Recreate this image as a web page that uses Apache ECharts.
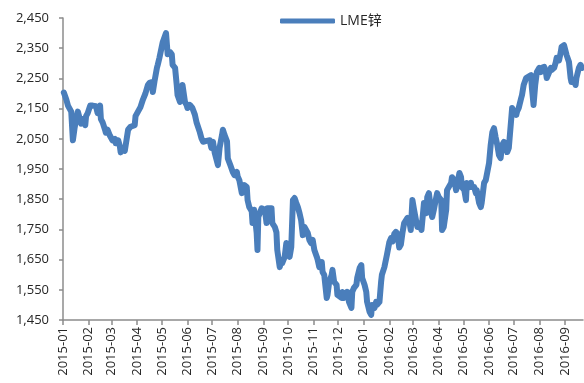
<!DOCTYPE html>
<html>
<head>
<meta charset="utf-8">
<script src="https://cdn.jsdelivr.net/npm/echarts@6/dist/echarts.min.js"></script>
<style>
  html, body { margin: 0; padding: 0; background: #ffffff; }
  #chart { width: 584px; height: 383px; }
</style>
</head>
<body>
<div id="chart"></div>
<script>
// LME zinc price, daily closes (USD/t)
const seriesName = 'LME锌';

const dates = [
  '2015-01-02','2015-01-05','2015-01-07','2015-01-11','2015-01-13','2015-01-15','2015-01-17','2015-01-19','2015-01-22','2015-01-23','2015-01-25','2015-01-28','2015-01-29','2015-01-31',
  '2015-02-03','2015-02-06','2015-02-10','2015-02-12','2015-02-15','2015-02-16','2015-02-18','2015-02-21','2015-02-22','2015-02-24','2015-02-27','2015-02-28',
  '2015-03-02','2015-03-05','2015-03-06','2015-03-09','2015-03-11','2015-03-12','2015-03-15','2015-03-17','2015-03-21','2015-03-24','2015-03-29','2015-03-30',
  '2015-04-02','2015-04-05','2015-04-08','2015-04-11','2015-04-14','2015-04-16','2015-04-19','2015-04-20','2015-04-22','2015-04-25','2015-04-26','2015-04-28',
  '2015-05-02','2015-05-06','2015-05-08','2015-05-11','2015-05-13','2015-05-14','2015-05-17','2015-05-19','2015-05-20','2015-05-23','2015-05-25','2015-05-26','2015-05-29','2015-05-31',
  '2015-06-01','2015-06-04','2015-06-06','2015-06-07','2015-06-10','2015-06-12','2015-06-13','2015-06-16','2015-06-18','2015-06-20','2015-06-22','2015-06-24','2015-06-28','2015-06-30',
  '2015-07-02','2015-07-04','2015-07-08','2015-07-10','2015-07-13','2015-07-14','2015-07-16','2015-07-19','2015-07-20','2015-07-23','2015-07-26','2015-07-28','2015-07-31',
  '2015-08-01','2015-08-03','2015-08-06','2015-08-07','2015-08-09','2015-08-12','2015-08-13','2015-08-15','2015-08-18','2015-08-19','2015-08-21','2015-08-24','2015-08-25','2015-08-26','2015-08-30',
  '2015-09-03','2015-09-05','2015-09-06','2015-09-11','2015-09-12','2015-09-15','2015-09-17','2015-09-18','2015-09-21','2015-09-23','2015-09-24','2015-09-27','2015-09-29','2015-09-30',
  '2015-10-03','2015-10-05','2015-10-07','2015-10-09','2015-10-11','2015-10-13','2015-10-15','2015-10-17','2015-10-19','2015-10-21','2015-10-23','2015-10-25','2015-10-27','2015-10-29','2015-10-31',
  '2015-11-02','2015-11-05','2015-11-06','2015-11-08','2015-11-11','2015-11-12','2015-11-14','2015-11-17','2015-11-18','2015-11-20','2015-11-23','2015-11-24','2015-11-26','2015-11-29','2015-11-30',
  '2015-12-02','2015-12-05','2015-12-06','2015-12-08','2015-12-11','2015-12-12','2015-12-14','2015-12-17','2015-12-18','2015-12-20','2015-12-23','2015-12-24','2015-12-27','2015-12-29','2015-12-30',
  '2016-01-02','2016-01-04','2016-01-05','2016-01-08','2016-01-10','2016-01-11','2016-01-14','2016-01-16','2016-01-17','2016-01-20','2016-01-22','2016-01-23','2016-01-26','2016-01-28','2016-01-29',
  '2016-02-01','2016-02-03','2016-02-05','2016-02-07','2016-02-09','2016-02-11','2016-02-13','2016-02-15','2016-02-17','2016-02-19','2016-02-21','2016-02-23','2016-02-25','2016-02-27','2016-02-29',
  '2016-03-02','2016-03-05','2016-03-06','2016-03-08','2016-03-11','2016-03-12','2016-03-14','2016-03-17','2016-03-18','2016-03-20','2016-03-23','2016-03-24','2016-03-26','2016-03-29','2016-03-30',
  '2016-04-01','2016-04-04','2016-04-05','2016-04-07','2016-04-10','2016-04-11','2016-04-13','2016-04-16','2016-04-17','2016-04-20','2016-04-22','2016-04-23','2016-04-26','2016-04-28','2016-04-29',
  '2016-05-02','2016-05-04','2016-05-05','2016-05-08','2016-05-10','2016-05-11','2016-05-14','2016-05-16','2016-05-17','2016-05-20','2016-05-22','2016-05-23','2016-05-26','2016-05-28','2016-05-30',
  '2016-06-01','2016-06-03','2016-06-05','2016-06-07','2016-06-09','2016-06-11','2016-06-13','2016-06-15','2016-06-17','2016-06-19','2016-06-22','2016-06-23','2016-06-25','2016-06-28','2016-06-29',
  '2016-07-01','2016-07-04','2016-07-05','2016-07-07','2016-07-10','2016-07-11','2016-07-13','2016-07-16','2016-07-17','2016-07-22','2016-07-23','2016-07-25','2016-07-27','2016-07-29',
  '2016-08-01','2016-08-03','2016-08-04','2016-08-07','2016-08-09','2016-08-10','2016-08-13','2016-08-15','2016-08-16','2016-08-19','2016-08-21','2016-08-22','2016-08-25','2016-08-27','2016-08-28','2016-08-31',
  '2016-09-02','2016-09-03','2016-09-06','2016-09-08','2016-09-09','2016-09-12','2016-09-14','2016-09-15','2016-09-18','2016-09-20','2016-09-22'
];

const zincPrice = [
  2203,2180,2160,2140,2045,2085,2115,2140,2110,2100,2115,2095,2125,2135,
  2160,2160,2158,2135,2160,2115,2105,2080,2070,2080,2060,2065,
  2045,2050,2035,2045,2025,2005,2020,2010,2080,2090,2095,2125,
  2140,2155,2180,2200,2228,2235,2238,2205,2240,2285,2295,2318,
  2370,2400,2330,2337,2330,2295,2285,2228,2195,2172,2185,2228,2172,2162,
  2152,2162,2160,2152,2130,2105,2100,2072,2052,2040,2045,2043,2045,2020,
  2040,2005,1963,2020,2063,2080,2063,2042,1985,1963,1940,1930,1940,
  1925,1913,1870,1865,1897,1890,1847,1824,1810,1771,1815,1738,1682,1791,1820,
  1815,1771,1820,1820,1771,1758,1740,1682,1625,1648,1638,1659,1705,1692,
  1659,1692,1847,1854,1838,1824,1804,1780,1731,1758,1748,1738,1715,1705,1715,
  1682,1659,1650,1625,1642,1609,1599,1523,1533,1576,1599,1616,1576,1566,1533,
  1533,1523,1543,1523,1533,1543,1510,1490,1543,1556,1566,1589,1622,1632,1589,
  1566,1543,1510,1477,1467,1500,1490,1510,1500,1510,1576,1600,1625,1625,1665,
  1708,1721,1710,1735,1742,1735,1690,1700,1740,1771,1775,1788,1780,1748,1847,
  1815,1771,1758,1771,1748,1748,1837,1804,1857,1870,1804,1791,1815,1857,1870,
  1857,1847,1748,1758,1815,1880,1880,1904,1923,1913,1880,1890,1937,1923,1890,
  1880,1847,1904,1890,1904,1890,1890,1870,1880,1837,1824,1837,1904,1913,1913,
  1970,2030,2072,2085,2055,2030,1996,1986,2030,2040,2030,2006,2020,2119,2152,
  2140,2129,2140,2152,2185,2195,2228,2251,2255,2261,2218,2162,2228,2271,
  2285,2271,2285,2288,2271,2251,2271,2285,2278,2285,2304,2318,2310,2337,2354,2360,
  2354,2328,2304,2251,2238,2245,2228,2251,2285,2295,2285
];

// Month marks along the date axis
const monthLabels = [
  '2015-01','2015-02','2015-03','2015-04','2015-05','2015-06','2015-07','2015-08','2015-09','2015-10','2015-11','2015-12',
  '2016-01','2016-02','2016-03','2016-04','2016-05','2016-06','2016-07','2016-08','2016-09'
];
const axisStart = '2015-01-01';
const axisEnd = '2016-09-23';

// 'YYYY-MM-DD' -> UTC timestamp
function toTime(s) {
  const p = s.split('-').map(Number);
  return Date.UTC(p[0], p[1] - 1, p.length > 2 ? p[2] : 1);
}
function monthText(t) {
  const d = new Date(t);
  const m = d.getUTCMonth() + 1;
  return d.getUTCFullYear() + '-' + (m < 10 ? '0' + m : m);
}

const monthStarts = monthLabels.map(toTime);
const points = dates.map((d, i) => [toTime(d), zincPrice[i]]);

const axisGray = '#8c8c8c';
const textColor = '#262626';
const baseFont = '"Open Sans", "Noto Sans CJK SC", sans-serif';

const chart = echarts.init(document.getElementById('chart'), null, { renderer: 'canvas' });
chart.setOption({
  animation: false,
  backgroundColor: '#ffffff',
  textStyle: { fontFamily: baseFont },
  legend: {
    data: [seriesName],
    left: 275,
    top: 9,
    icon: 'roundRect',
    itemWidth: 55,
    itemHeight: 5,
    textStyle: { fontSize: 14, color: textColor, fontFamily: baseFont }
  },
  grid: { left: 63, right: 1, top: 18, bottom: 63, containLabel: false },
  xAxis: {
    type: 'value',
    min: toTime(axisStart),
    max: toTime(axisEnd),
    splitLine: { show: false },
    axisLine: { show: true, lineStyle: { color: axisGray, width: 1.5 } },
    axisTick: {
      show: true,
      length: 5,
      customValues: monthStarts,
      lineStyle: { color: axisGray, width: 1.5 }
    },
    axisLabel: {
      customValues: monthStarts,
      rotate: 90,
      margin: 7,
      fontSize: 13,
      color: textColor,
      fontFamily: baseFont,
      formatter: v => monthText(v)
    }
  },
  yAxis: {
    type: 'value',
    min: 1450,
    max: 2450,
    interval: 100,
    splitLine: { show: false },
    axisLine: { show: true, lineStyle: { color: axisGray, width: 1.5 } },
    axisTick: { show: true, length: 4, lineStyle: { color: axisGray, width: 1.5 } },
    axisLabel: {
      margin: 14,
      fontSize: 13,
      color: textColor,
      fontFamily: baseFont,
      formatter: v => v.toLocaleString('en-US')
    }
  },
  series: [{
    name: seriesName,
    type: 'line',
    data: points,
    showSymbol: false,
    symbol: 'none',
    smooth: false,
    color: '#4a7ebb',
    lineStyle: { width: 6, color: '#4a7ebb', join: 'round', cap: 'round' }
  }]
});
</script>
</body>
</html>
